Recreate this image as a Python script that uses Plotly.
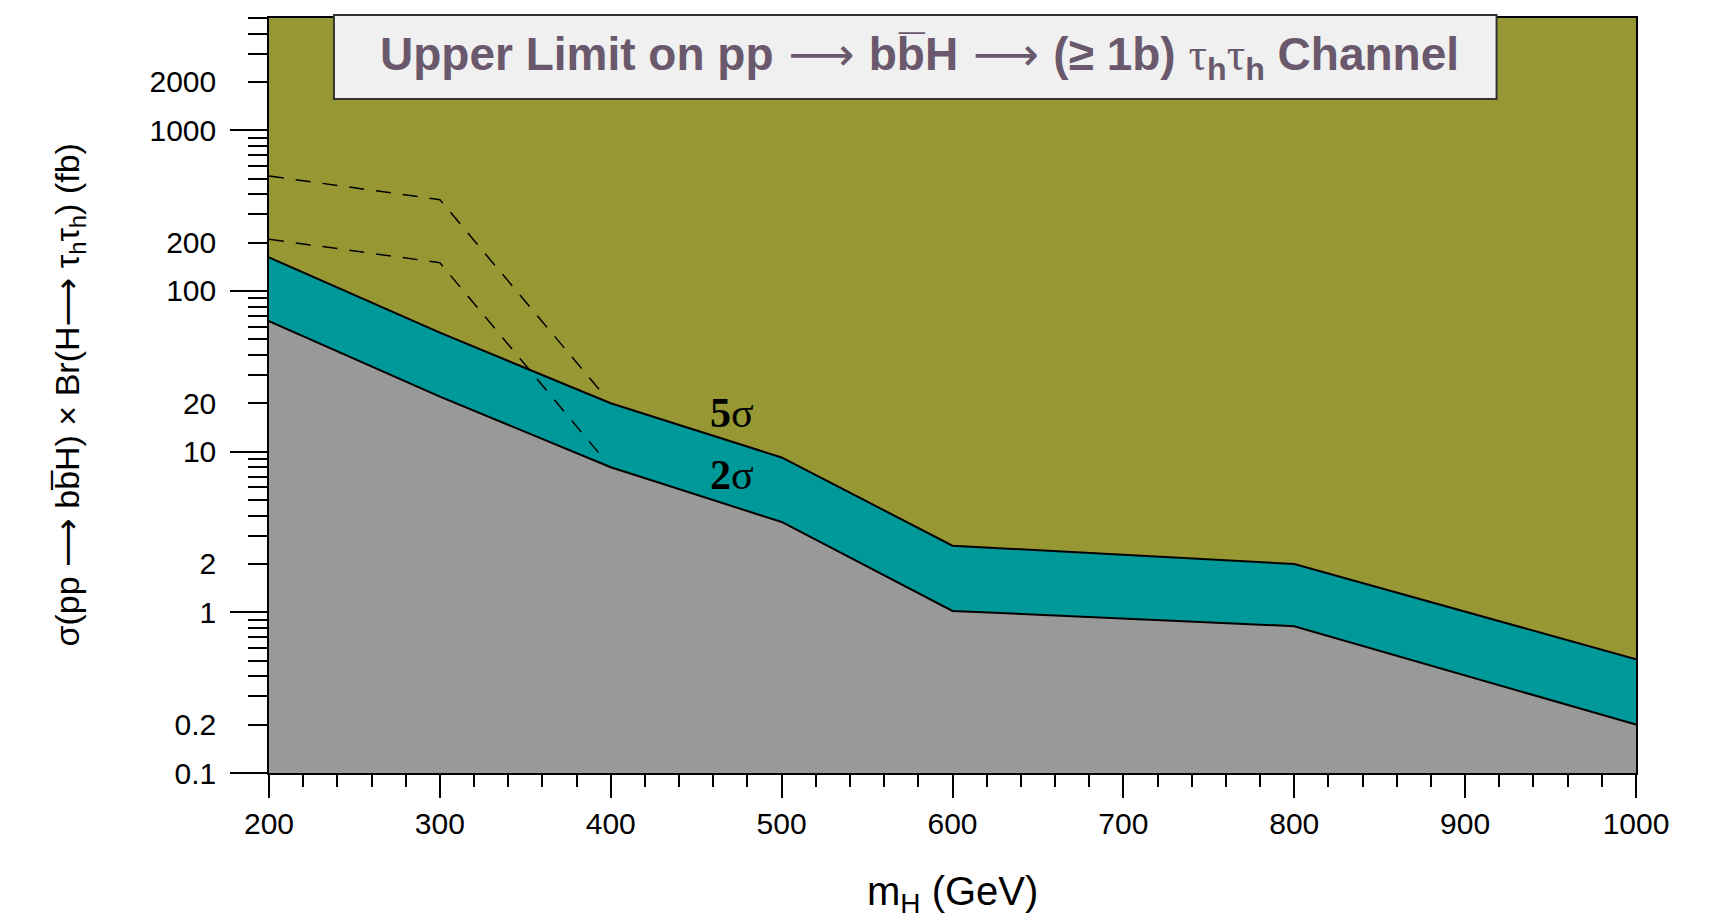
import math
import plotly.graph_objects as go

# Higgs mass points (GeV) and the discovery / exclusion limits (fb)
mass = [200, 300, 400, 500, 600, 800, 1000]
limit_5sigma = [162, 55, 20, 9.2, 2.6, 2.0, 0.51]
limit_2sigma = [65, 22, 8.0, 3.65, 1.02, 0.82, 0.2]

# Signal expectations drawn as dashed curves
mass_signal = [200, 300, 396]
signal_high = [520, 370, 22.5]
signal_low = [210, 150, 9.0]

# Axis extent
x_range = [200, 1000]
y_floor = 0.1
y_ceiling = 5000

y_labels = [0.1, 0.2, 1, 2, 10, 20, 100, 200, 1000, 2000]
y_label_text = ["0.1", "0.2", "1", "2", "10", "20", "100", "200", "1000", "2000"]
y_decades = [0.1, 1, 10, 100, 1000]

OLIVE = "#979834"
TEAL = "#009999"
GREY = "#999999"
TITLE_COLOR = "#6a596d"
FONT = "Liberation Sans, Arial, Helvetica, sans-serif"
SERIF = "Liberation Serif, Times New Roman, serif"

# minor ticks: every digit 2..9 in each decade, up to the top of the axis
minor_vals = []
for d in y_decades:
    for k in range(2, 10):
        v = round(k * d, 6)
        if v <= y_ceiling:
            minor_vals.append(v)

fig = go.Figure()

# baseline for the grey region
fig.add_trace(go.Scatter(
    x=mass, y=[y_floor] * len(mass), mode="lines",
    line=dict(width=0, color=GREY), showlegend=False, hoverinfo="skip"))
# grey: below the 2 sigma limit
fig.add_trace(go.Scatter(
    x=mass, y=limit_2sigma, mode="lines", fill="tonexty", fillcolor=GREY,
    line=dict(color="black", width=2), showlegend=False, name="2σ"))
# teal: between 2 sigma and 5 sigma
fig.add_trace(go.Scatter(
    x=mass, y=limit_5sigma, mode="lines", fill="tonexty", fillcolor=TEAL,
    line=dict(color="black", width=2), showlegend=False, name="5σ"))

# dashed signal curves
for ys in (signal_high, signal_low):
    fig.add_trace(go.Scatter(
        x=mass_signal, y=ys, mode="lines",
        line=dict(color="black", width=1.5, dash="15px,12px"),
        showlegend=False, hoverinfo="skip"))

# carries the long decade ticks on the left axis
fig.add_trace(go.Scatter(x=[None], y=[None], yaxis="y2", showlegend=False,
                         hoverinfo="skip"))

y_log_range = [math.log10(y_floor), math.log10(y_ceiling)]

fig.update_layout(
    width=1736, height=922,
    margin=dict(l=269, r=100, t=18, b=149),
    paper_bgcolor="white",
    plot_bgcolor=OLIVE,
    font=dict(family=FONT, color="black"),
    xaxis=dict(
        range=x_range, tick0=0, dtick=100,
        ticks="outside", ticklen=23, tickwidth=1.5, tickcolor="black",
        minor=dict(dtick=20, ticks="outside", ticklen=12, tickwidth=1.5,
                   tickcolor="black", showgrid=False),
        showline=True, mirror=True, linecolor="black", linewidth=1.5,
        showgrid=False, zeroline=False,
        tickfont=dict(size=30, family=FONT, color="black"),
    ),
    yaxis=dict(
        type="log", range=y_log_range,
        tickmode="array", tickvals=y_labels, ticktext=y_label_text,
        ticks="outside", ticklen=19, tickwidth=1.5, tickcolor="black",
        minor=dict(tickmode="array", tickvals=minor_vals, ticks="outside",
                   ticklen=19, tickwidth=1.5, tickcolor="black",
                   showgrid=False),
        ticklabelstandoff=26,
        showline=True, mirror=True, linecolor="black", linewidth=1.5,
        showgrid=False, zeroline=False,
        tickfont=dict(size=30, family=FONT, color="black"),
    ),
    yaxis2=dict(
        type="log", range=y_log_range, overlaying="y", side="left",
        anchor="x", tickmode="array", tickvals=y_decades,
        ticks="outside", ticklen=38, tickwidth=1.5, tickcolor="black",
        showticklabels=False, showgrid=False, zeroline=False, showline=False,
    ),
)

# title box
fig.add_shape(
    type="rect", xref="x domain", yref="y domain",
    x0=0.0475, x1=0.898, y0=0.8927, y1=1.004,
    fillcolor="#f0f0f0", line=dict(color="#333333", width=2), layer="above")

arrow = ('<span style="font-weight:normal;font-family:DejaVu Sans">'
         ' ⟶ </span>')
tau = ('<span style="font-weight:normal;font-family:Liberation Serif">'
       'τ</span>')
title_text = ("<b>Upper Limit on pp" + arrow + "bb\u0305H" + arrow +
              "(≥ 1b) " + tau + "<sub>h</sub>" + tau +
              "<sub>h</sub> Channel</b>")
fig.add_annotation(
    xref="x domain", yref="y domain", x=0.476, y=0.948,
    text=title_text, showarrow=False,
    font=dict(size=46, family=FONT, color=TITLE_COLOR),
    xanchor="center", yanchor="middle")

# band labels
fig.add_annotation(
    x=471, y=math.log10(17.3), text="<b>5</b>σ", showarrow=False,
    font=dict(size=42, family=SERIF, color="black"))
fig.add_annotation(
    x=471, y=math.log10(7.2), text="<b>2</b>σ", showarrow=False,
    font=dict(size=42, family=SERIF, color="black"))

# axis titles
fig.add_annotation(
    xref="paper", yref="paper", x=0.5, y=-0.16,
    text="m<sub>H</sub> (GeV)", showarrow=False,
    font=dict(size=40, family=FONT, color="black"),
    xanchor="center", yanchor="middle")
y_arrow = '<span style="font-family:DejaVu Sans">⟶</span>'
fig.add_annotation(
    xref="paper", yref="paper", x=-0.147, y=0.5, textangle=-90,
    text=("σ(pp " + y_arrow + " bb\u0305H) × Br(H" + y_arrow +
          " τ<sub>h</sub>τ<sub>h</sub>) (fb)"),
    showarrow=False, font=dict(size=34, family=FONT, color="black"),
    xanchor="center", yanchor="middle")

fig.write_html("out.html")
